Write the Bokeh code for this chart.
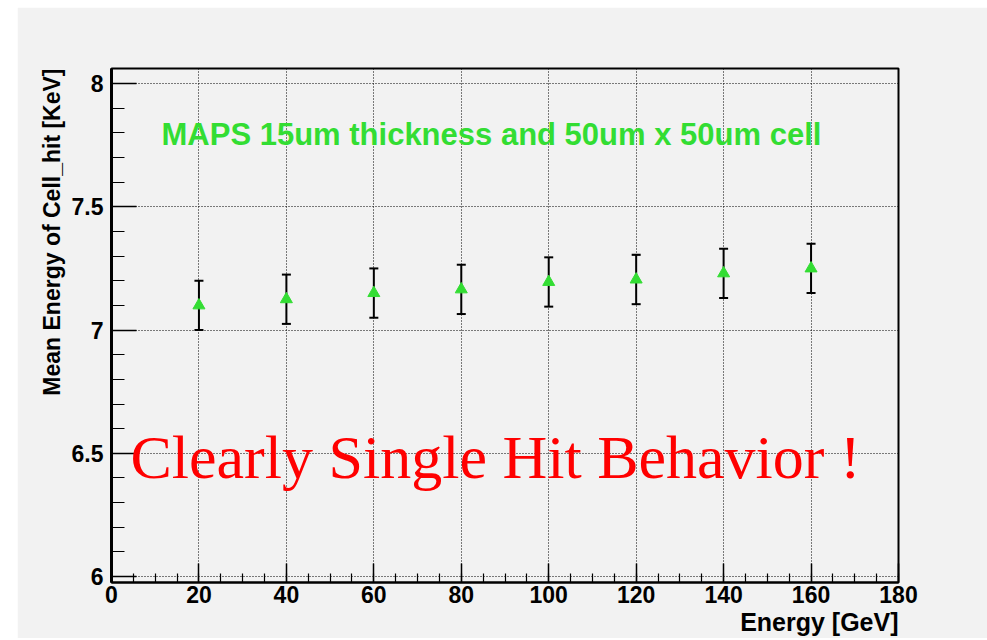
import math
from bokeh.plotting import figure
from bokeh.layouts import column, row
from bokeh.models import (ColumnDataSource, Whisker, TeeHead, Label, Range1d,
                          SingleIntervalTicker, Title, Spacer)
from bokeh.embed import file_html
from bokeh.resources import INLINE

# ---- data ----
energy = [20, 40, 60, 80, 100, 120, 140, 160]
mean_e = [7.10, 7.125, 7.15, 7.165, 7.195, 7.205, 7.23, 7.25]
err = [0.10, 0.10, 0.10, 0.10, 0.10, 0.10, 0.10, 0.10]
x_label = "Energy [GeV]"
y_label = "Mean Energy of Cell_hit [KeV]"
title_text = "MAPS 15um thickness and 50um x 50um cell"
note_text = "Clearly Single Hit Behavior !"

BG = "#f2f2f2"
GREEN = "#33dd33"

Y0, Y1 = 5.976, 8.061
OX, OY = 17, 7                       # canvas offset on the page
FL, FR, FT, FB = 111, 898, 68, 582   # frame edges in page pixels
W, H = 987 - OX, 638 - OY

p = figure(width=W, height=H, output_backend="svg", toolbar_location=None,
           x_range=Range1d(0, 180), y_range=Range1d(Y0, Y1),
           min_border_left=FL - OX, min_border_right=OX + W - FR,
           min_border_top=FT - OY, min_border_bottom=OY + H - FB)
p.background_fill_color = BG
p.border_fill_color = BG
p.outline_line_color = "black"
p.outline_line_width = 2

# axes
p.xaxis.ticker = SingleIntervalTicker(interval=20, num_minor_ticks=4)
p.yaxis.ticker = SingleIntervalTicker(interval=0.5, num_minor_ticks=5)
for ax in (p.xaxis, p.yaxis):
    ax.major_tick_out = 0
    ax.minor_tick_out = 0
    ax.major_tick_line_color = "black"
    ax.minor_tick_line_color = "black"
    ax.major_tick_line_width = 1.5
    ax.minor_tick_line_width = 1.2
    ax.axis_line_color = "black"
    ax.major_label_text_font = "Liberation Sans"
    ax.major_label_text_font_style = "bold"
    ax.major_label_text_font_size = "23px"
    ax.major_label_text_color = "black"
p.xaxis.major_tick_in = 19
p.xaxis.minor_tick_in = 9
p.xaxis.axis_line_width = 2
p.xaxis.major_label_standoff = 3
p.yaxis.major_tick_in = 25
p.yaxis.minor_tick_in = 13
p.yaxis.axis_line_width = 3
p.yaxis.major_label_standoff = 8

# axis titles (right / top aligned like ROOT)
p.add_layout(Title(text=x_label, align="right", standoff=0,
                   text_font="Liberation Sans", text_font_style="bold",
                   text_font_size="25px", text_color="black"), "below")
p.add_layout(Title(text=y_label, align="right", standoff=8,
                   text_font="Liberation Sans", text_font_style="bold",
                   text_font_size="23px", text_color="black"), "left")

# grid
p.xgrid.ticker = SingleIntervalTicker(interval=20)
p.ygrid.ticker = SingleIntervalTicker(interval=0.5)
for g in (p.xgrid, p.ygrid):
    g.grid_line_color = "black"
    g.grid_line_dash = "1 2"
    g.grid_line_width = 1
    g.grid_line_alpha = 1.0

src = ColumnDataSource(dict(
    x=energy, y=mean_e,
    lo=[m - e for m, e in zip(mean_e, err)],
    hi=[m + e for m, e in zip(mean_e, err)]))

w = Whisker(source=src, base="x", lower="lo", upper="hi",
            line_color="black", line_width=2,
            upper_head=TeeHead(size=9, line_color="black", line_width=2),
            lower_head=TeeHead(size=9, line_color="black", line_width=2))
p.add_layout(w)

p.scatter("x", "y", source=src, marker="triangle", size=12,
          fill_color=GREEN, line_color=GREEN)

# texts inside the frame
px_per_x = (FR - FL) / 180.0
px_per_y = (FB - FT) / (Y1 - Y0)

def dx(px):
    return (px - FL) / px_per_x

def dy(py):
    return Y1 - (py - FT) / px_per_y

p.add_layout(Label(x=dx(161), y=dy(134), text=title_text,
                   text_font="Liberation Sans", text_font_style="bold",
                   text_font_size="31px", text_color=GREEN,
                   text_baseline="alphabetic", text_align="left"))
p.add_layout(Label(x=dx(130), y=dy(456), text=note_text,
                   text_font="Liberation Serif", text_font_size="62px",
                   text_color="#ff0000",
                   text_baseline="alphabetic", text_align="left"))

page = column(Spacer(height=OY),
              row(Spacer(width=OX), p, spacing=0),
              spacing=0)

open("out.html", "w").write(file_html(page, INLINE))
